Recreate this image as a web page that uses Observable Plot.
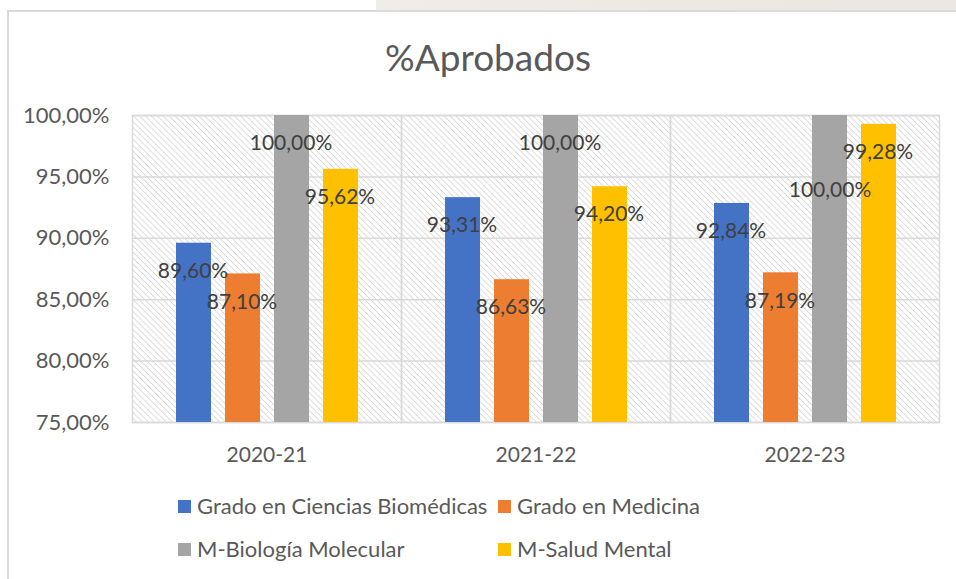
<!DOCTYPE html>
<html>
<head>
<meta charset="utf-8">
<script src="https://cdn.jsdelivr.net/npm/d3@7"></script>
<script src="https://cdn.jsdelivr.net/npm/@observablehq/plot@0.6"></script>
<style>
  html, body { margin: 0; padding: 0; background: #fff; }
  body { width: 956px; height: 579px; overflow: hidden; position: relative; font-family: Lato, "Open Sans", sans-serif; }
  #strip { position: absolute; left: 376px; top: 0; width: 580px; height: 10px; background: linear-gradient(90deg, #f0ede9, #ece8e2 50%, #ebe7e2); }
  #card { position: absolute; left: 7px; top: 10px; width: 980px; height: 600px; border-left: 2px solid #d9d9d9; border-top: 2px solid #d9d9d9; box-sizing: border-box; }
  #title { position: absolute; left: 0; top: 38px; width: 976px; text-align: center; font-size: 37px; line-height: 1; color: #595959; }
  #chart { position: absolute; left: 0; top: 90px; }
  .leg { position: absolute; font-size: 22px; color: #595959; line-height: 1; white-space: nowrap; }
  .sw { position: absolute; width: 13px; height: 13px; }
</style>
</head>
<body>
<div id="strip"></div>
<div id="card"></div>
<div id="title">%Aprobados</div>
<div id="chart"></div>
<div id="legend"></div>
<script>
const years = ["2020-21", "2021-22", "2022-23"];
const series = ["Grado en Ciencias Biomédicas", "Grado en Medicina", "M-Biología Molecular", "M-Salud Mental"];
const colors = ["#4472C4", "#ED7D31", "#A5A5A5", "#FFC000"];
const cienciasBiomedicas = [89.60, 93.31, 92.84];
const medicina = [87.10, 86.63, 87.19];
const biologiaMolecular = [100.00, 100.00, 100.00];
const saludMental = [95.62, 94.20, 99.28];
const yTicks = [75, 80, 85, 90, 95, 100];

const seriesValues = [cienciasBiomedicas, medicina, biologiaMolecular, saludMental];
const data = [];
years.forEach((year, i) => {
  series.forEach((s, j) => data.push({year, series: s, value: seriesValues[j][i]}));
});
const fmt = v => v.toFixed(2).replace(".", ",") + "%";
const displaced = d => d.year === "2022-23" && d.series === "M-Biología Molecular";

const plot = Plot.plot({
  width: 956,
  height: 390,
  marginTop: 25,
  marginBottom: 58,
  marginLeft: 132,
  marginRight: 17,
  style: {fontFamily: "Lato, 'Open Sans', sans-serif", color: "#595959", background: "transparent"},
  fx: {domain: years, padding: 0, label: null},
  x: {domain: series, paddingInner: 0.29, paddingOuter: 0.85, axis: null},
  y: {domain: [75, 100], label: null},
  color: {domain: series, range: colors},
  marks: [
    Plot.frame({fill: "url(#hatch)"}),
    Plot.gridY(yTicks, {stroke: "#d9d9d9", strokeOpacity: 1, strokeWidth: 1.5}),
    Plot.frame({stroke: "#d9d9d9", strokeWidth: 1.5}),
    Plot.axisY(yTicks, {tickSize: 0, tickPadding: 23, fontSize: 22, fill: "#595959", tickFormat: v => v.toFixed(2).replace(".", ",") + "%", label: null}),
    Plot.axisFx({anchor: "bottom", tickSize: 0, tickPadding: 25, fontSize: 21, fill: "#595959", label: null}),
    Plot.barY(data, {fx: "year", x: "series", y1: 75, y2: "value", fill: "series"}),
    Plot.text(data.filter(d => !displaced(d)), {fx: "year", x: "series", y: "value", text: d => fmt(d.value), dy: 28, dx: -1, fontSize: 21, fill: "#404040"}),
    Plot.text(data.filter(displaced), {fx: "year", x: "series", y: "value", text: d => fmt(d.value), dy: 75, fontSize: 21, fill: "#404040"})
  ]
});

const svg = d3.select(plot);
const defs = svg.insert("defs", ":first-child");
const pat = defs.append("pattern")
  .attr("id", "hatch")
  .attr("patternUnits", "userSpaceOnUse")
  .attr("width", 4.2).attr("height", 4.2)
  .attr("patternTransform", "rotate(-45)");
pat.append("rect").attr("width", 4.2).attr("height", 4.2).attr("fill", "#ffffff");
pat.append("line").attr("x1", 0).attr("y1", 0).attr("x2", 0).attr("y2", 4.2)
  .attr("stroke", "#cfcfcf").attr("stroke-width", 1.4);
document.getElementById("chart").appendChild(plot);

// legend
const legendPos = [[178, 500], [498, 500], [178, 543], [498, 543]];
const legend = document.getElementById("legend");
series.forEach((s, i) => {
  const [lx, ly] = legendPos[i];
  const sw = document.createElement("div");
  sw.className = "sw";
  sw.style.left = lx + "px"; sw.style.top = ly + "px";
  sw.style.background = colors[i];
  legend.appendChild(sw);
  const t = document.createElement("div");
  t.className = "leg";
  t.textContent = s;
  t.style.left = (lx + 19) + "px"; t.style.top = (ly - 5) + "px";
  legend.appendChild(t);
});
</script>
</body>
</html>
